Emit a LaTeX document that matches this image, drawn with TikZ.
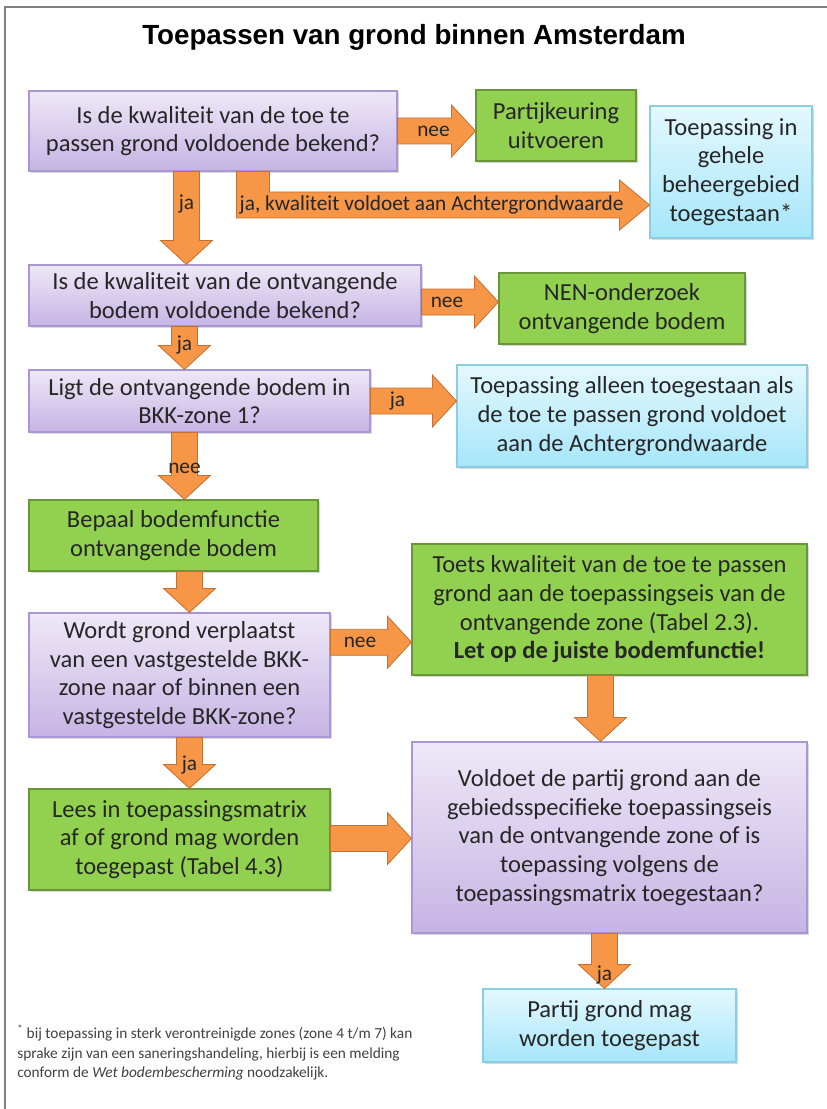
\documentclass[tikz,border=0pt]{standalone}
\usepackage{fontspec}
\setmainfont{Carlito}
\newfontfamily\titlefont{Liberation Sans}
\usetikzlibrary{calc,shadows}
\definecolor{orng}{RGB}{247,150,70}
\definecolor{orngd}{RGB}{196,112,48}
\definecolor{purT}{RGB}{238,232,247}
\definecolor{purB}{RGB}{198,180,228}
\definecolor{purD}{RGB}{170,150,210}
\definecolor{grn}{RGB}{146,208,80}
\definecolor{grnD}{RGB}{104,150,56}
\definecolor{bluT}{RGB}{228,248,254}
\definecolor{bluB}{RGB}{166,230,250}
\definecolor{bluD}{RGB}{140,205,228}
\definecolor{frm}{RGB}{128,128,128}
\tikzset{
 sz/.style 2 args={minimum width=#1*0.75pt, minimum height=#2*0.75pt},
 box/.style={align=center, inner sep=0pt, font=\fontsize{18.4}{21.5}\selectfont, text=black!85,
   drop shadow={shadow xshift=1.2pt,shadow yshift=-1.5pt,opacity=0.3}, line width=0.8pt},
 qbox/.style={box, draw=purD, top color=purT, bottom color=purB},
 gbox/.style={box, draw=grnD, fill=grn},
 bbox/.style={box, draw=bluD, top color=bluT, bottom color=bluB},
 blk/.style={fill=orng, draw=orngd, line width=0.6pt, line join=miter},
 lbl/.style={font=\fontsize{16}{18}\selectfont, text=black!85, inner sep=0pt},
 foot/.style={align=left, font=\fontsize{11.5}{14.6}\selectfont, text=black!75, inner sep=0pt},
 ttl/.style={font=\titlefont\bfseries\fontsize{20.8}{24}\selectfont, inner sep=0pt},
}
\newcommand\hblk[6]{%
 \path (#1 |- #3) coordinate (hs) (#2 |- #3) coordinate (he);
 \filldraw[blk] ($(hs)+(0,-13)$) -- ($(he)+(-24,-13)$) -- ($(he)+(-24,-26)$) -- (he)
   -- ($(he)+(-24,26)$) -- ($(he)+(-24,13)$) -- ($(hs)+(0,13)$) -- cycle;
 \if\relax\detokenize{#5}\relax\else
 \node[lbl] (#4) at ($(hs)!0.5!(he)+(#6,0)$) {#5};\fi
}
\newcommand\vblk[6]{%
 \path (#3 |- #1) coordinate (vs) (#3 |- #2) coordinate (ve);
 \filldraw[blk] ($(vs)+(-13,0)$) -- ($(ve)+(-13,-24)$) -- ($(ve)+(-26,-24)$) -- (ve)
   -- ($(ve)+(26,-24)$) -- ($(ve)+(13,-24)$) -- ($(vs)+(13,0)$) -- cycle;
 \if\relax\detokenize{#5}\relax\else
 \node[lbl] (#4) at ($(vs)!0.5!(ve)+(0,#6)$) {#5};\fi
}
\begin{document}
\begin{tikzpicture}[x=0.75pt,y=-0.75pt]
\useasboundingbox (0,0) rectangle (827,1109);
\draw[frm, line width=1.5pt] (5,1109) -- (5,7) -- (827,7);
\node[ttl] (title) at (414,37) {Toepassen van grond binnen Amsterdam};

\node[qbox, sz={368}{80}] (b1) at (213,131) {Is de kwaliteit van de toe te\\passen grond voldoende bekend?};
\node[gbox, sz={160}{71}] (pk) at (556,125.5) {Partijkeuring\\uitvoeren};
\node[bbox, sz={162}{132}] (tg) at (731,172) {Toepassing in\\gehele\\beheergebied\\toegestaan*};
\node[qbox, sz={392}{61}] (b2) at (225,295.5) {Is de kwaliteit van de ontvangende\\bodem voldoende bekend?};
\node[gbox, sz={246}{71}] (nen) at (622,308.5) {NEN-onderzoek\\ontvangende bodem};
\node[qbox, sz={341}{62}] (b3) at (199.5,401) {Ligt de ontvangende bodem in\\BKK-zone 1?};
\node[bbox, sz={350}{102}] (tal) at (632,416) {Toepassing alleen toegestaan als\\de toe te passen grond voldoet\\aan de Achtergrondwaarde};
\node[gbox, sz={289}{71}] (bep) at (173.5,535.5) {Bepaal bodemfunctie\\ontvangende bodem};
\node[qbox, sz={301}{124}] (wg) at (179.5,675) {Wordt grond verplaatst\\van een vastgestelde BKK-\\zone naar of binnen een\\vastgestelde BKK-zone?};
\node[gbox, sz={395}{131}] (toets) at (609.5,609.5) {Toets kwaliteit van de toe te passen\\grond aan de toepassingseis van de\\ontvangende zone (Tabel 2.3).\\\textbf{Let op de juiste bodemfunctie!}};
\node[gbox, sz={301}{101}] (lees) at (179.5,839.5) {Lees in toepassingsmatrix\\af of grond mag worden\\toegepast (Tabel 4.3)};
\node[qbox, sz={395}{191}] (vd) at (609.5,837.5) {Voldoet de partij grond aan de\\gebiedsspecifieke toepassingseis\\van de ontvangende zone of is\\toepassing volgens de\\toepassingsmatrix toegestaan?};
\node[bbox, sz={253}{73}] (pg) at (609.5,1025.5) {Partij grond mag\\worden toegepast};

\coordinate (m2) at ($(b2.east)!0.5!(nen.west)$);
\coordinate (m4) at ($(wg.east)!0.5!(toets.west)$);
\coordinate (m5) at ($(lees.east)!0.5!(vd.west)$);
\coordinate (x1) at ($(b1.south west)+(158,0)$);
\coordinate (x2) at ($(b2.south west)+(156,0)$);
\coordinate (x3) at ($(b3.south west)+(156,0)$);
\coordinate (x4) at ($(bep.south west)+(161,0)$);
\coordinate (x5) at ($(wg.south west)+(161,0)$);
\coordinate (x6) at ($(toets.south west)+(189,0)$);
\coordinate (x7) at ($(vd.south west)+(193,0)$);

\hblk{b1.east}{pk.west}{b1.east}{l1}{nee}{-3}
\hblk{b2.east}{nen.west}{m2}{l2}{nee}{-13}
\hblk{b3.east}{tal.west}{b3.east}{l3}{ja}{-16}
\hblk{wg.east}{toets.west}{m4}{l4}{nee}{-11}
\hblk{lees.east}{vd.west}{m5}{l5}{}{0}

\vblk{b1.south}{b2.north}{x1}{l6}{ja}{-14}
\vblk{b2.south}{b3.north}{x2}{l7}{ja}{-3}
\vblk{b3.south}{bep.north}{x3}{l8}{nee}{2}
\vblk{bep.south}{wg.north}{x4}{l9}{}{0}
\vblk{wg.south}{lees.north}{x5}{l10}{ja}{2}
\vblk{toets.south}{vd.north}{x6}{l11}{}{0}
\vblk{vd.south}{pg.north}{x7}{l12}{ja}{14}

% L-shaped arrow
\coordinate (ls) at ($(b1.south west)+(208,0)$);
\coordinate (le) at ($(tg.west)+(0,33)$);
\filldraw[blk] (ls) -- ($(ls |- le)+(0,13)$) -- ($(le)+(-30,13)$) -- ($(le)+(-30,25)$) -- (le)
  -- ($(le)+(-30,-25)$) -- ($(le)+(-30,-13)$) -- ($(ls |- le)+(33,-13)$) -- ($(ls)+(33,0)$) -- cycle;
\node[lbl, anchor=west] (l13) at ($(ls |- le)+(3,0)$) {ja, kwaliteit voldoet aan Achtergrondwaarde};

\node[foot, anchor=north west] (fn) at (17,1025) {\textsuperscript{*} bij toepassing in sterk verontreinigde zones (zone 4 t/m 7) kan\\sprake zijn van een saneringshandeling, hierbij is een melding\\conform de \textit{Wet bodembescherming} noodzakelijk.};
\end{tikzpicture}
\end{document}
